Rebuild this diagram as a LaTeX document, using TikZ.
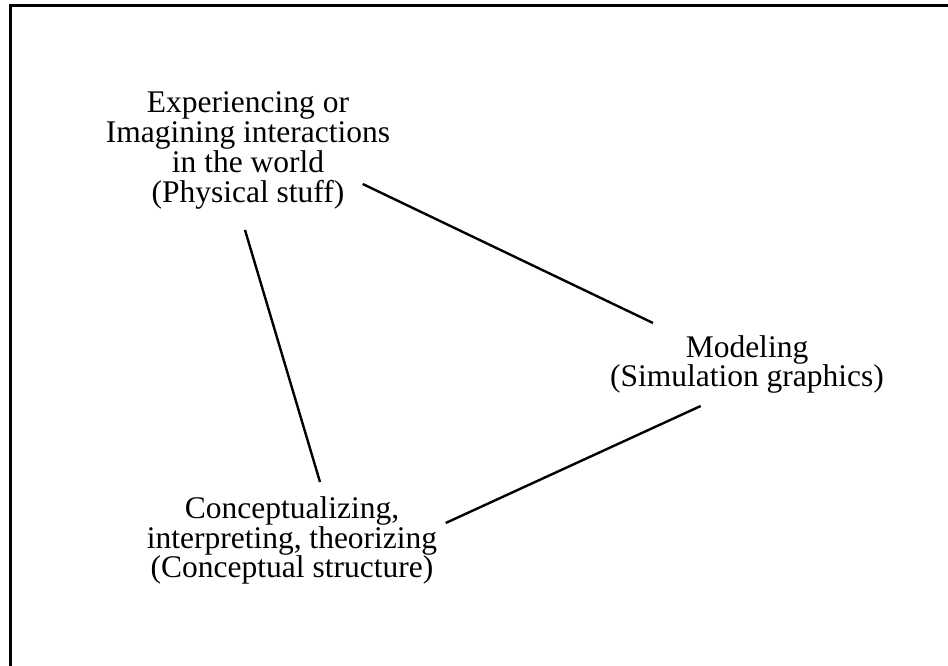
\documentclass[tikz,border=0pt]{standalone}
\usepackage{fontspec}
\setmainfont{Liberation Serif}
\usetikzlibrary{positioning}

\begin{document}
\begin{tikzpicture}[
    x=1pt, y=-1pt,
    % Styles
    idea/.style={align=center, inner sep=0pt, outer sep=0pt, font=\fontsize{31.5}{29.7}\selectfont},
    link/.style={line width=2.4pt},
    frame/.style={line width=3pt}
]
\useasboundingbox (0,0) rectangle (948,666);

% 1. Frame (open at right and bottom)
\draw[frame] (10.5,666) -- (10.5,5.5) -- (948,5.5);

% 2. The three corners
\node[idea] (world) at (248,150.5) {Experiencing or \\ Imagining interactions \\ in the world \\ (Physical stuff)};
\node[idea] (model) at (747,364.5) {Modeling \\ (Simulation graphics)};
\node[idea] (theory) at (292,540.5) {Conceptualizing, \\ interpreting, theorizing \\ (Conceptual structure)};

% 3. Links
\draw[link] ([shift={(114.7,33.5)}]world.center) -- ([shift={(-94,-41.5)}]model.center);
\draw[link] ([shift={(-3,79.5)}]world.center) -- ([shift={(28,-58.5)}]theory.center);
\draw[link] ([shift={(153.7,-17.5)}]theory.center) -- ([shift={(-46.3,41.5)}]model.center);

\end{tikzpicture}
\end{document}
